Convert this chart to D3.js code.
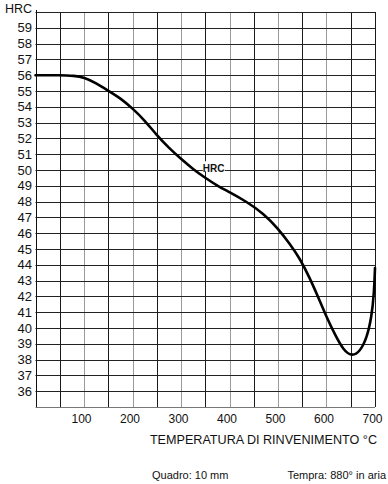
<!DOCTYPE html>
<html>
<head>
<meta charset="utf-8">
<script src="https://cdn.jsdelivr.net/npm/d3@7"></script>
<style>
  body { margin: 0; background: #fff; }
  text { font-family: "Liberation Sans", Arial, sans-serif; fill: #111; }
</style>
</head>
<body>
<div id="chart"></div>
<script>
// tempering curve (temperature in degC, hardness HRC)
const temps = [0, 50, 80, 100, 125, 150, 175, 200, 225, 250, 275, 300, 325, 350, 375, 400, 435, 470, 500, 525, 545, 565, 583, 600, 618, 635, 652, 669, 683, 693, 698, 700];
const hrc = [56, 56, 55.97, 55.87, 55.5, 55.02, 54.55, 53.9, 53.15, 52.2, 51.4, 50.7, 50.05, 49.5, 49.0, 48.6, 48.0, 47.25, 46.3, 45.3, 44.4, 43.2, 41.95, 40.7, 39.55, 38.6, 38.2, 38.5, 39.35, 40.7, 42.2, 43.8];

const xTicks = [100, 200, 300, 400, 500, 600, 700];
const yTicks = d3.range(36, 60);

const width = 388;
const height = 484;

const svg = d3
  .select("#chart")
  .append("svg")
  .attr("width", width)
  .attr("height", height);

const x = d3.scaleLinear().domain([0, 700]).range([35.5, 375]);
const y = d3.scaleLinear().domain([35, 60]).range([407, 12]);

// grid: one square every 50 degC and every 1 HRC
const grid = svg.append("g");
grid
  .selectAll("line.v")
  .data(d3.range(0, 701, 50))
  .enter()
  .append("line")
  .attr("x1", (d) => Math.round(x(d)) + 0.5)
  .attr("x2", (d) => Math.round(x(d)) + 0.5)
  .attr("y1", y(60))
  .attr("y2", y(35))
  .attr("stroke", (d) => (d % 100 === 0 && d > 0 && d < 700 ? "#9a9a9a" : "#1a1a1a"))
  .attr("stroke-width", 1);

grid
  .selectAll("line.h")
  .data(d3.range(35, 61))
  .enter()
  .append("line")
  .attr("x1", x(0))
  .attr("x2", x(700))
  .attr("y1", (d) => Math.round(y(d)) + 0.5)
  .attr("y2", (d) => Math.round(y(d)) + 0.5)
  .attr("stroke", (d) => (d === 35 ? "#777" : "#222"))
  .attr("stroke-width", 1);

// left axis line
svg
  .append("line")
  .attr("x1", Math.round(x(0)) + 0.5)
  .attr("x2", Math.round(x(0)) + 0.5)
  .attr("y1", y(60) - 2)
  .attr("y2", y(35))
  .attr("stroke", "#111");

// y tick labels
svg
  .append("g")
  .selectAll("text")
  .data(yTicks)
  .enter()
  .append("text")
  .attr("x", 32)
  .attr("y", (d) => y(d) + 4.6)
  .attr("text-anchor", "end")
  .attr("font-size", 13)
  .text((d) => d);

svg
  .append("text")
  .attr("x", 32)
  .attr("y", 13)
  .attr("text-anchor", "end")
  .attr("font-size", 12.5)
  .text("HRC");

// x tick labels
svg
  .append("g")
  .selectAll("text")
  .data(xTicks)
  .enter()
  .append("text")
  .attr("x", (d) => x(d) - 2.5)
  .attr("y", 423)
  .attr("text-anchor", "middle")
  .attr("font-size", 12)
  .text((d) => d);

svg
  .append("text")
  .attr("x", 377)
  .attr("y", 444)
  .attr("text-anchor", "end")
  .attr("font-size", 12.6)
  .text("TEMPERATURA DI RINVENIMENTO °C");

svg
  .append("text")
  .attr("x", 152)
  .attr("y", 479)
  .attr("font-size", 11)
  .text("Quadro: 10 mm");

svg
  .append("text")
  .attr("x", 386)
  .attr("y", 479)
  .attr("text-anchor", "end")
  .attr("font-size", 11)
  .text("Tempra: 880° in aria");

// white backing behind the curve label
svg
  .append("rect")
  .attr("x", x(345))
  .attr("y", y(50.55))
  .attr("width", 22)
  .attr("height", 10)
  .attr("fill", "#fff");

// curve (smoothed like the hand-drawn original)
const line = d3
  .line()
  .x((d, i) => x(temps[i]))
  .y((d) => y(d))
  .curve(d3.curveBasis);

svg
  .append("path")
  .datum(hrc)
  .attr("fill", "none")
  .attr("stroke", "#000")
  .attr("stroke-width", 2.6)
  .attr("stroke-linecap", "round")
  .attr("d", line);

svg
  .append("text")
  .attr("x", x(345))
  .attr("y", y(49.9))
  .attr("font-size", 10)
  .attr("font-weight", "bold")
  .text("HRC");
</script>
</body>
</html>
